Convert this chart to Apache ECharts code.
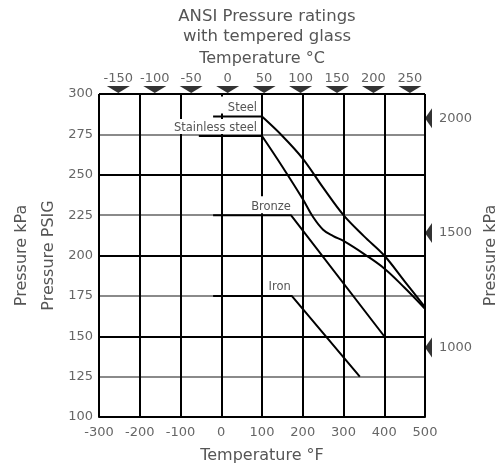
<!DOCTYPE html>
<html><head><meta charset="utf-8">
<script src="https://cdn.jsdelivr.net/npm/echarts@6/dist/echarts.min.js"></script>
<style>html,body{margin:0;padding:0;background:#fff}#c{width:499px;height:468px}</style>
</head><body><div id="c"></div>
<script>
// ---- data ----
const titleText = 'ANSI Pressure ratings\nwith tempered glass';
const fahrenheitRange = [-300, 500];
const psiRange = [100, 300];
const celsiusRange = [-176.5, 270.7];   // top scale as drawn in the reference
const kpaRange = [697, 2106];           // right scale as drawn in the reference
const celsiusTicks = [-150, -100, -50, 0, 50, 100, 150, 200, 250];
const kpaTicks = [1000, 1500, 2000];

const steelF = [-20, 100, 150, 200, 250, 300, 350, 400, 450, 500];
const steelP = [286, 286, 274, 260, 242, 225, 212, 200, 184, 168];
const stainlessF = [-55, 100, 150, 200, 225, 250, 275, 300, 350, 400, 450, 500];
const stainlessP = [274, 274, 255, 235, 224, 216, 212, 209, 201, 192, 180, 167];
const bronzeF = [-20, 171, 400];
const bronzeP = [225, 225, 150];
const ironF = [-20, 173, 340];
const ironP = [175, 175, 125];

// ---- chart ----
const FONT = 'DejaVu Sans';
const TXT = '#666';
const chart = echarts.init(document.getElementById('c'), null, {renderer: 'canvas'});

function pts(fs, ps, from, to) {
  const out = [];
  for (let i = from; i < to; i++) out.push([fs[i], ps[i]]);
  return out;
}
const lineStyle = {color: '#000', width: 2};
function lineSeries(name, data, smooth) {
  return {type: 'line', name, data, smooth: smooth || false, showSymbol: false, symbol: 'none',
    lineStyle, silent: true, animation: false, z: 3};
}
function labelMark(name, f, p, pos, pad) {
  return {
    symbol: 'circle', symbolSize: 0, silent: true, animation: false,
    itemStyle: {color: 'rgba(0,0,0,0)'},
    label: {show: true, formatter: '{b}', color: '#555', fontSize: 11.5, fontFamily: FONT,
      align: 'right', verticalAlign: 'bottom', backgroundColor: '#fff', position: pos, padding: pad},
    data: [{name, coord: [f, p]}]
  };
}

const steelFlat = lineSeries('Steel', pts(steelF, steelP, 0, 2));
steelFlat.markPoint = labelMark('Steel', steelF[1], steelP[1], [-3, -3], [5, 2, 0, 12]);
const stainlessFlat = lineSeries('Stainless steel', pts(stainlessF, stainlessP, 0, 2));
stainlessFlat.markPoint = labelMark('Stainless steel', stainlessF[1], stainlessP[1], [-3, -2], [3, 2, 0, 3]);
const bronze = lineSeries('Bronze', pts(bronzeF, bronzeP, 0, bronzeF.length));
bronze.markPoint = labelMark('Bronze', bronzeF[1], bronzeP[1], [3, -2], [5, 3, 0, 4]);
const iron = lineSeries('Iron', pts(ironF, ironP, 0, ironF.length));
iron.markPoint = labelMark('Iron', ironF[1], ironP[1], [1, -3], [2, 2, 0, 2]);

const series = [
  steelFlat,
  lineSeries('Steel curve', pts(steelF, steelP, 1, steelF.length), 0.35),
  stainlessFlat,
  lineSeries('Stainless curve', pts(stainlessF, stainlessP, 1, stainlessF.length), 0.4),
  bronze,
  iron,
  {type: 'scatter', name: 'C markers', xAxisIndex: 1, yAxisIndex: 0, clip: false, silent: true, animation: false,
    symbol: 'triangle', symbolSize: [23, 7], symbolRotate: 180, symbolOffset: [0, -4.5],
    itemStyle: {color: '#000'}, data: celsiusTicks.map(c => [c, psiRange[1]])},
  {type: 'scatter', name: 'kPa markers', xAxisIndex: 0, yAxisIndex: 1, clip: false, silent: true, animation: false,
    symbol: 'triangle', symbolSize: [20, 7], symbolRotate: 90, symbolOffset: [3.5, 0],
    itemStyle: {color: '#000'}, data: kpaTicks.map(k => [fahrenheitRange[1], k])}
];

const plain = v => String(v);
const axisLabel = {color: TXT, fontSize: 13, fontFamily: FONT, formatter: plain};
const nameStyle = {color: '#555', fontSize: 16, fontFamily: FONT};

chart.setOption({
  animation: false,
  backgroundColor: '#fff',
  title: {text: titleText, left: 262, top: 2, textAlign: 'center',
    textStyle: {fontSize: 16.5, fontWeight: 'normal', color: '#555', fontFamily: FONT, lineHeight: 20}},
  grid: {left: 99, top: 94, width: 326, height: 323, containLabel: false, outerBoundsMode: 'none'},
  xAxis: [
    {type: 'value', position: 'bottom', min: fahrenheitRange[0], max: fahrenheitRange[1], interval: 100,
      name: 'Temperature °F', nameLocation: 'middle', nameGap: 31, nameTextStyle: nameStyle,
      axisLine: {show: true, lineStyle: {color: '#000', width: 2}}, axisTick: {show: false},
      axisLabel: Object.assign({margin: 9}, axisLabel),
      splitLine: {show: true, lineStyle: {color: '#000', width: 2}}},
    {type: 'value', position: 'top', min: celsiusRange[0], max: celsiusRange[1],
      name: 'Temperature °C', nameLocation: 'middle', nameGap: 24, nameTextStyle: nameStyle,
      axisLine: {show: false}, axisTick: {show: false}, splitLine: {show: false},
      axisLabel: Object.assign({margin: 9, customValues: celsiusTicks}, axisLabel)}
  ],
  yAxis: [
    {type: 'value', position: 'left', min: psiRange[0], max: psiRange[1], interval: 25,
      name: 'Pressure PSIG', nameLocation: 'middle', nameGap: 40, nameRotate: 90, nameTextStyle: nameStyle,
      axisLine: {show: true, lineStyle: {color: '#000', width: 2}}, axisTick: {show: false},
      axisLabel: Object.assign({margin: 6}, axisLabel),
      splitLine: {show: true, lineStyle: {color: ['#000', '#8a8a8a'], width: 2}}},
    {type: 'value', position: 'right', min: kpaRange[0], max: kpaRange[1],
      name: 'Pressure kPa', nameLocation: 'middle', nameGap: 55, nameRotate: 90, nameTextStyle: nameStyle,
      axisLine: {show: false}, axisTick: {show: false}, splitLine: {show: false},
      axisLabel: Object.assign({margin: 14, customValues: kpaTicks}, axisLabel)},
    {type: 'value', position: 'left', min: kpaRange[0], max: kpaRange[1],
      name: 'Pressure kPa', nameLocation: 'middle', nameGap: 69, nameRotate: 90, nameTextStyle: nameStyle,
      axisLine: {show: false}, axisTick: {show: false}, splitLine: {show: false},
      axisLabel: {show: false}}
  ],
  series
});
</script></body></html>
